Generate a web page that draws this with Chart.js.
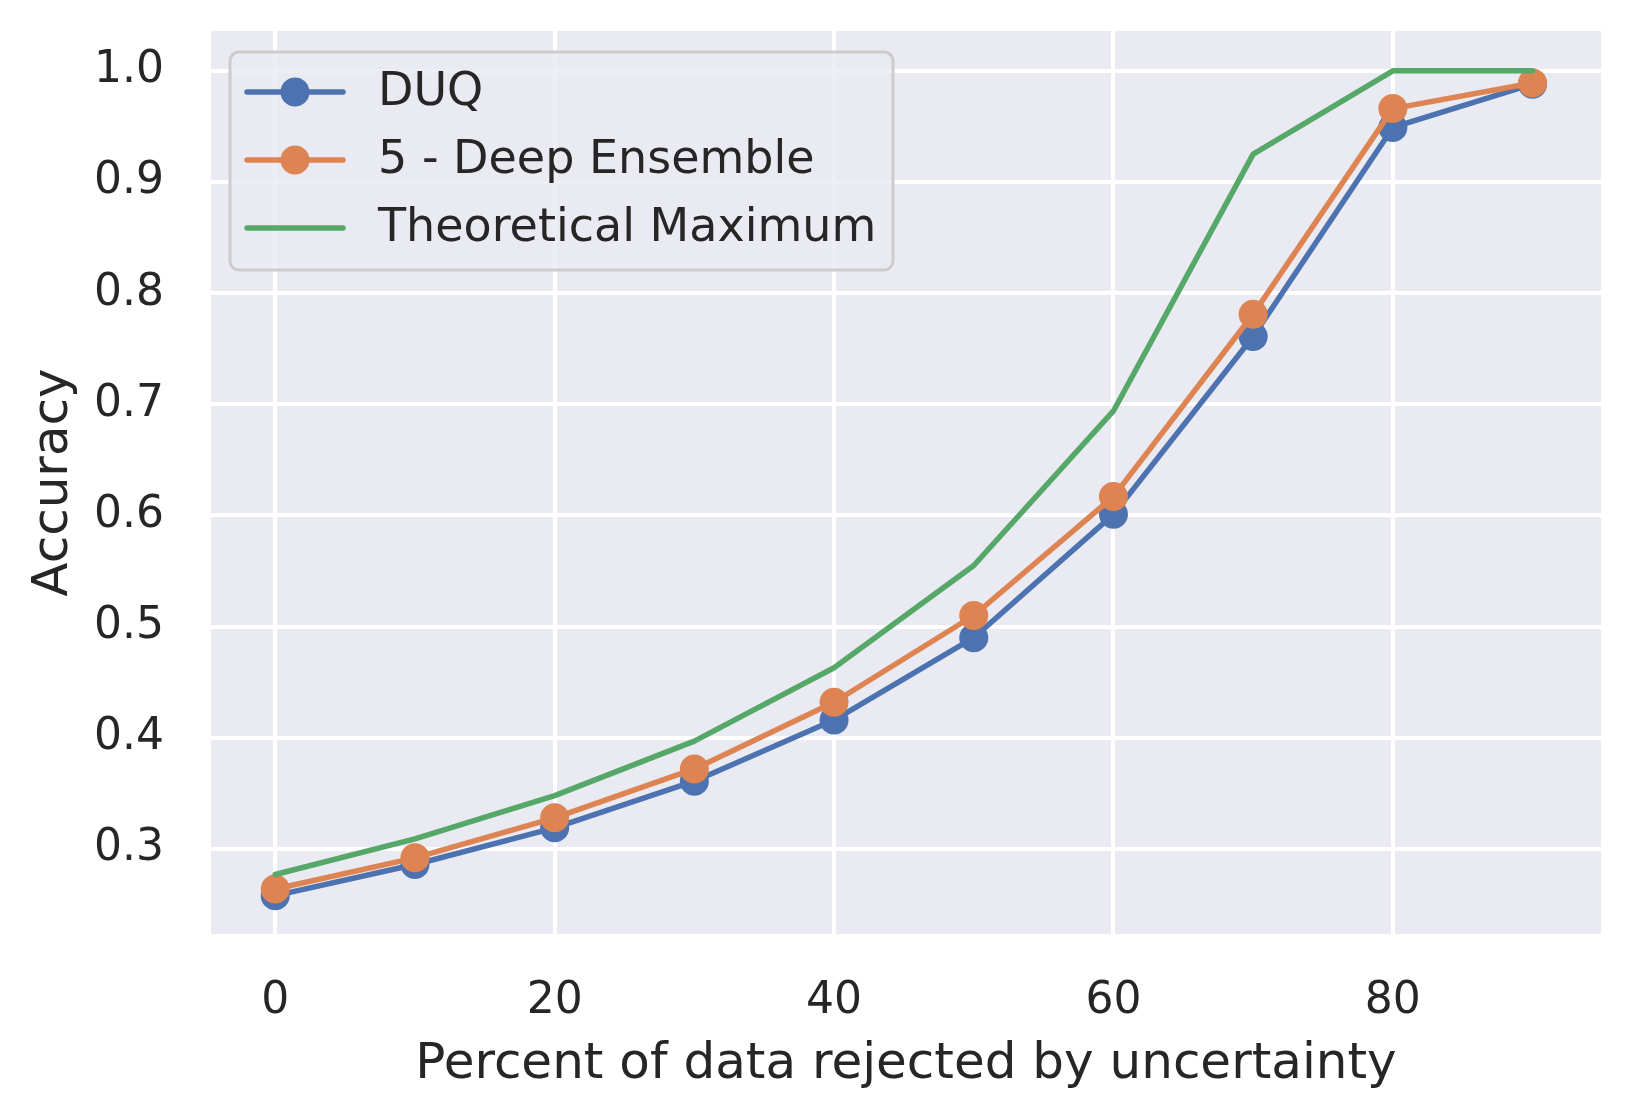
<!DOCTYPE html>
<html>
<head>
<meta charset="utf-8">
<script src="https://cdn.jsdelivr.net/npm/chart.js@4"></script>
<style>
  html, body { margin: 0; padding: 0; background: #ffffff; }
  #wrap { width: 1632px; height: 1115px; }
</style>
</head>
<body>
<div id="wrap"><canvas id="chart" width="1632" height="1115"></canvas></div>
<script>
// =======================
// DATA
// =======================
let percentRejected = [0, 10, 20, 30, 40, 50, 60, 70, 80, 90];
let duqAcc      = [0.258, 0.286, 0.319, 0.361, 0.416, 0.490, 0.601, 0.761, 0.949, 0.988];
let ensembleAcc = [0.264, 0.292, 0.328, 0.372, 0.432, 0.510, 0.617, 0.781, 0.966, 0.989];
let theoMaxAcc  = [0.277, 0.309, 0.348, 0.397, 0.463, 0.555, 0.694, 0.925, 1.000, 1.000];
let seriesNames = ["DUQ", "5 - Deep Ensemble", "Theoretical Maximum"];
let xTicks = [0, 20, 40, 60, 80];
let yTicks = [0.3, 0.4, 0.5, 0.6, 0.7, 0.8, 0.9, 1.0];

// =======================
// STYLE
// =======================
const BLUE = "#4C72B0";
const ORANGE = "#DD8452";
const GREEN = "#55A868";
const TEXT = "#262626";
const FONT = "'DejaVu Sans', sans-serif";
const TICK_SIZE = 44;
const LEGEND_SIZE = 46;
const LABEL_SIZE = 50;

function points(values) {
    return percentRejected.map((x, i) => ({ x: x, y: values[i] }));
}

// plot area background (seaborn darkgrid)
const plotBg = {
    id: "plotBg",
    beforeDraw(chart) {
        const { ctx, chartArea: a } = chart;
        ctx.save();
        ctx.fillStyle = "#EAEAF2";
        ctx.fillRect(a.left, a.top, a.right - a.left, a.bottom - a.top);
        ctx.restore();
    }
};

// legend drawn inside the axes, like matplotlib's
const innerLegend = {
    id: "innerLegend",
    afterDatasetsDraw(chart) {
        const ctx = chart.ctx;
        const a = chart.chartArea;
        const x0 = a.left + 19, y0 = a.top + 21, w = 663, h = 218, r = 9;
        ctx.save();
        ctx.beginPath();
        ctx.roundRect(x0, y0, w, h, r);
        ctx.fillStyle = "rgba(234,234,242,0.8)";
        ctx.fill();
        ctx.lineWidth = 3;
        ctx.strokeStyle = "#CCCCCC";
        ctx.stroke();

        ctx.font = LEGEND_SIZE + "px " + FONT;
        ctx.textBaseline = "middle";
        ctx.textAlign = "left";
        chart.data.datasets.forEach((ds, i) => {
            const y = y0 + 40 + i * 68;
            ctx.strokeStyle = ds.borderColor;
            ctx.lineWidth = ds.borderWidth;
            ctx.lineCap = "round";
            ctx.beginPath();
            ctx.moveTo(x0 + 17, y);
            ctx.lineTo(x0 + 113, y);
            ctx.stroke();
            if (ds.pointRadius > 0) {
                ctx.fillStyle = ds.borderColor;
                ctx.beginPath();
                ctx.arc(x0 + 65, y, ds.pointRadius, 0, Math.PI * 2);
                ctx.fill();
            }
            ctx.fillStyle = TEXT;
            ctx.fillText(ds.label, x0 + 148, y + 1);
        });
        ctx.restore();
    }
};

// =======================
// CHART
// =======================
new Chart(document.getElementById("chart"), {
    type: "line",
    data: {
        datasets: [
            {
                label: seriesNames[0],
                data: points(duqAcc),
                borderColor: BLUE,
                backgroundColor: BLUE,
                borderWidth: 5.5,
                pointRadius: 14.5,
                pointBorderWidth: 0,
                order: 3
            },
            {
                label: seriesNames[1],
                data: points(ensembleAcc),
                borderColor: ORANGE,
                backgroundColor: ORANGE,
                borderWidth: 5.5,
                pointRadius: 14.5,
                pointBorderWidth: 0,
                order: 2
            },
            {
                label: seriesNames[2],
                data: points(theoMaxAcc),
                borderColor: GREEN,
                backgroundColor: GREEN,
                borderWidth: 5.5,
                pointRadius: 0,
                order: 1
            }
        ]
    },
    options: {
        responsive: false,
        animation: false,
        devicePixelRatio: 1,
        layout: { padding: { top: 31, right: 31, bottom: 0, left: 0 } },
        plugins: {
            legend: { display: false },
            tooltip: { enabled: false }
        },
        elements: { line: { tension: 0, borderJoinStyle: "round", borderCapStyle: "round" } },
        scales: {
            x: {
                type: "linear",
                min: -4.6,
                max: 94.9,
                afterFit: s => { s.height = 181; s.paddingLeft = 0; s.paddingRight = 0; },
                afterBuildTicks: s => { s.ticks = xTicks.map(v => ({ value: v })); },
                grid: { color: "#ffffff", lineWidth: 4, drawTicks: false },
                border: { display: false },
                ticks: {
                    color: TEXT,
                    padding: 41,
                    font: { family: FONT, size: TICK_SIZE },
                    callback: v => String(v)
                },
                title: {
                    display: true,
                    text: "Percent of data rejected by uncertainty",
                    color: TEXT,
                    font: { family: FONT, size: LABEL_SIZE },
                    padding: { top: 0, bottom: 20 }
                }
            },
            y: {
                type: "linear",
                min: 0.2235,
                max: 1.0358,
                afterFit: s => { s.width = 211; s.paddingTop = 0; s.paddingBottom = 0; },
                afterBuildTicks: s => { s.ticks = yTicks.map(v => ({ value: v })); },
                grid: { color: "#ffffff", lineWidth: 4, drawTicks: false },
                border: { display: false },
                ticks: {
                    color: TEXT,
                    padding: 47,
                    font: { family: FONT, size: TICK_SIZE },
                    callback: v => Number(v).toFixed(1)
                },
                title: {
                    display: true,
                    text: "Accuracy",
                    color: TEXT,
                    font: { family: FONT, size: LABEL_SIZE },
                    padding: { top: 24, bottom: 0 }
                }
            }
        }
    },
    plugins: [plotBg, innerLegend]
});
</script>
</body>
</html>
